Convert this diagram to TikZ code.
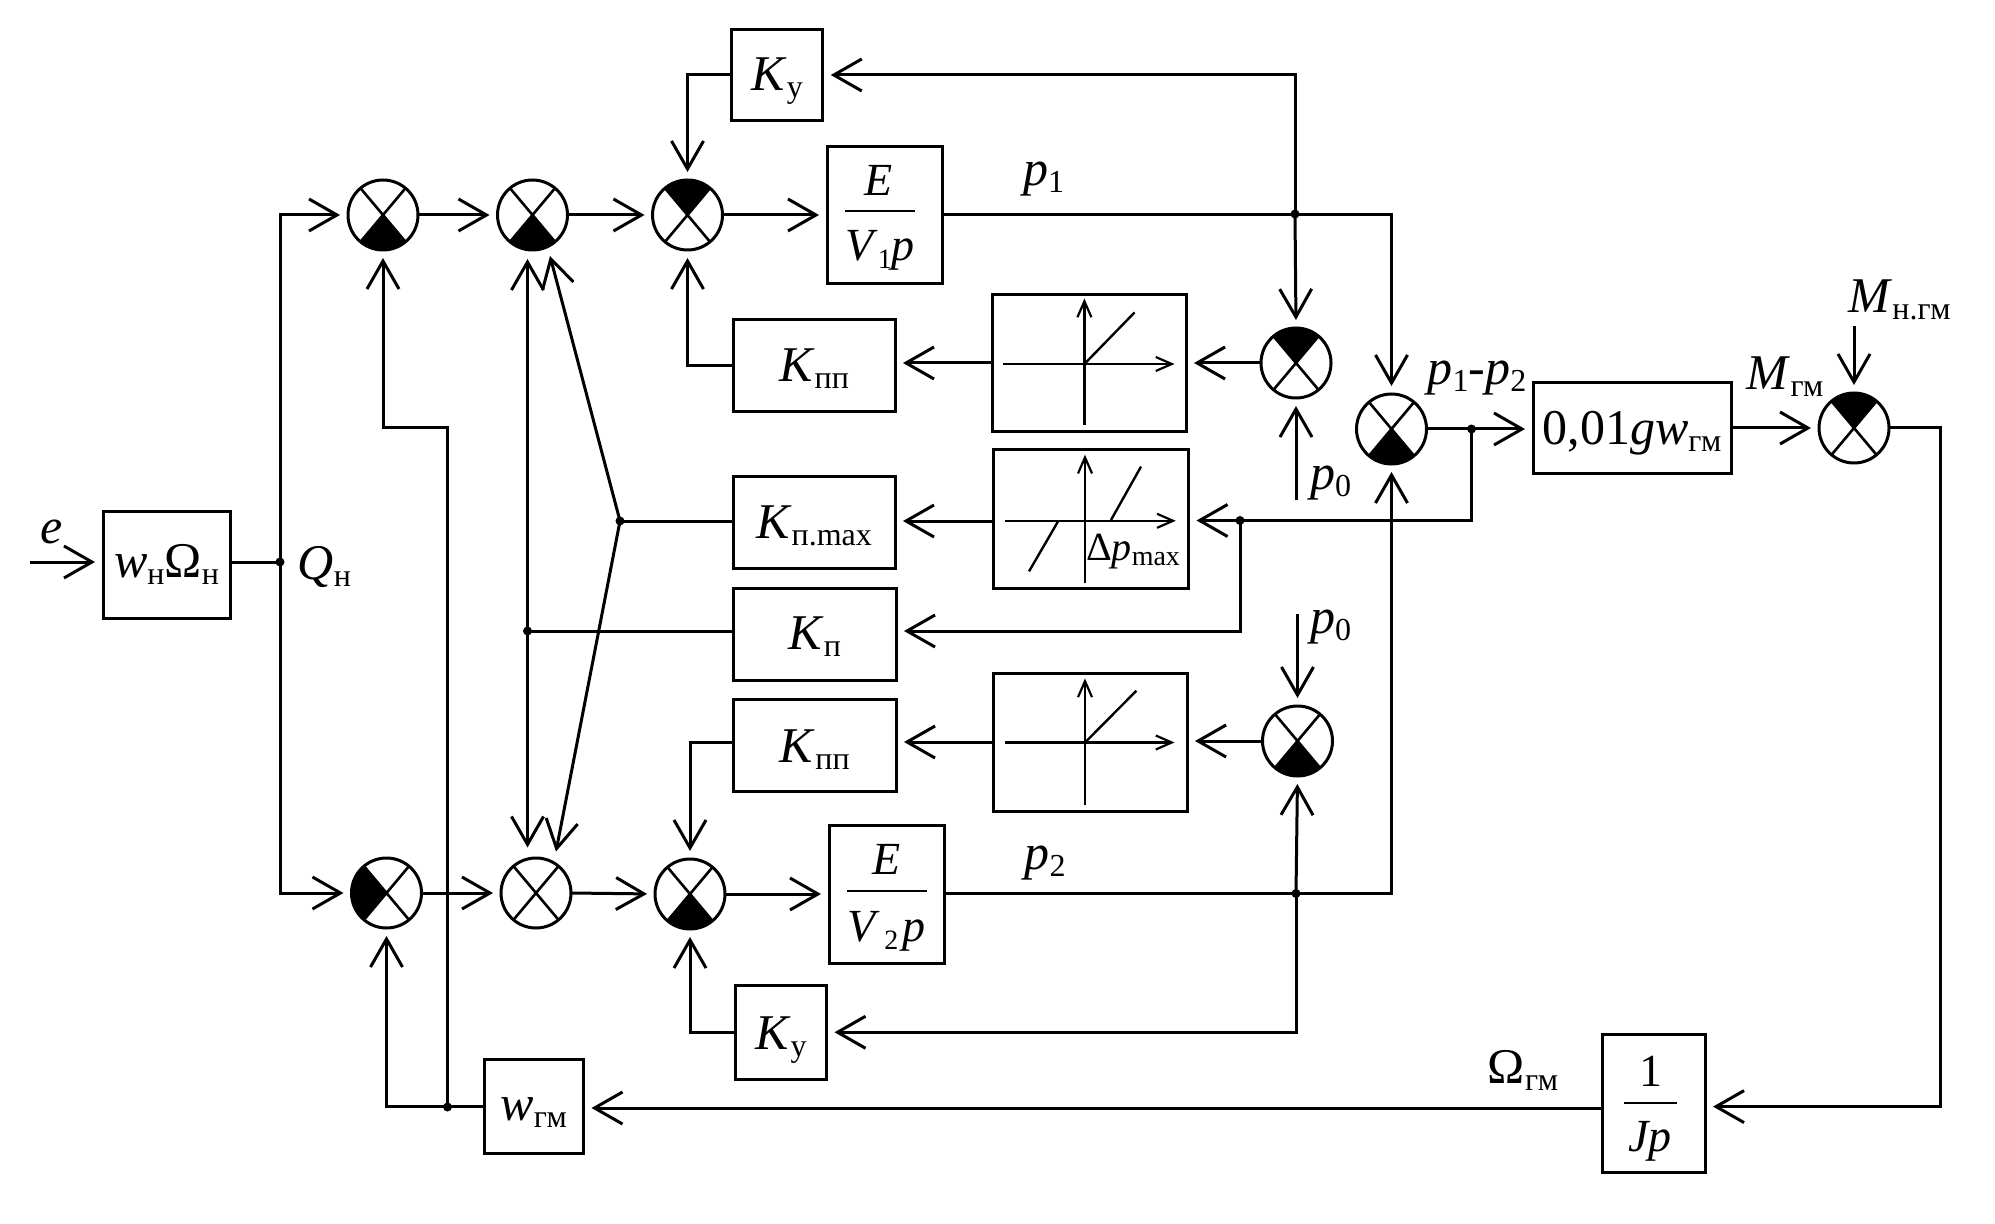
\documentclass[tikz,border=0pt]{standalone}
\usepackage{fontspec}
\setmainfont{Liberation Serif}
\usetikzlibrary{arrows.meta}
\newcommand\sbs[1]{\raisebox{-3.5pt}{\fontsize{16}{16}\selectfont #1}}
\newcommand\lbl[1]{\textit{#1}}
% summing junction: name, start and end angle of the black sector
\newcommand\sumfill[3]{%
  \fill (#1.center) -- (#1.#2)
    arc[start angle=#2,end angle=#3,radius=17.5pt] -- cycle;}
\newcommand\sumcross[1]{%
  \draw[thick cross] (#1.50) -- (#1.230) (#1.130) -- (#1.310);}
\tikzset{
  x=0.5pt,y=-0.5pt,
  wire/.style={line width=1.5pt},
  arr/.style={wire,-{Straight Barb[length=14pt,width=16pt,line width=1.5pt]},shorten >=4pt},
  arrn/.style={wire,-{Straight Barb[length=14pt,width=16pt,line width=1.5pt]}},
  axis/.style={line width=1.1pt,-{Straight Barb[length=8pt,width=7pt,line width=1.1pt]}},
  curve/.style={line width=1.2pt},
  blk/.style={draw,line width=1.5pt,inner sep=0pt,outer sep=0pt,align=center,
     font=\fontsize{25}{28}\selectfont},
  fr/.style={inner sep=0pt,font=\fontsize{23}{26}\selectfont},
  lab/.style={inner sep=0pt,font=\fontsize{25}{28}\selectfont},
  sumn/.style={circle,draw,line width=1.5pt,minimum size=35pt,inner sep=0pt,outer sep=0pt},
  dot/.style={circle,fill,inner sep=0pt,minimum size=4.5pt,outer sep=0pt},
  thick cross/.style={line width=1.3pt},
}
\begin{document}
\begin{tikzpicture}
\useasboundingbox (0,0) rectangle (1995,1224);
% summing junctions
\node[sumn] (s1) at (383,215) {};
\node[sumn] (s2) at (532.5,215) {};
\node[sumn] (s3) at (687.5,215) {};
\node[sumn] (s4) at (386.5,893) {};
\node[sumn] (s5) at (536,893) {};
\node[sumn] (s6) at (690,894) {};
\node[sumn] (s7) at (1296,363) {};
\node[sumn] (s8) at (1391.5,429) {};
\node[sumn] (s9) at (1297.5,741) {};
\node[sumn] (s10) at (1854,428) {};
\sumfill{s1}{230}{310}\sumfill{s2}{230}{310}\sumfill{s3}{50}{130}\sumfill{s4}{130}{230}
\sumfill{s6}{230}{310}\sumfill{s7}{50}{130}\sumfill{s8}{230}{310}\sumfill{s9}{230}{310}\sumfill{s10}{50}{130}
\sumcross{s1}\sumcross{s2}\sumcross{s3}\sumcross{s4}\sumcross{s5}
\sumcross{s6}\sumcross{s7}\sumcross{s8}\sumcross{s9}\sumcross{s10}
% blocks
\node[blk,minimum width=63.5pt,minimum height=53.5pt] (wo) at (166.5,564.5) {\lbl{w}\sbs{н}Ω\sbs{н}};
\node[blk,minimum width=45.75pt,minimum height=45.8pt] (ky1) at (777,75) {};
\node[lab] (ky1t) at (777,81) {\lbl{K}\sbs{у}};
\node[blk,minimum width=57.5pt,minimum height=68.5pt] (e1) at (884.5,215.5) {};
\node[blk,minimum width=81pt,minimum height=46pt] (kpp1) at (814,366) {};
\node[lab] (kpp1t) at (814,369) {\lbl{K}\sbs{пп}};
\node[blk,minimum width=97pt,minimum height=68.6pt] (nl1) at (1089,363) {};
\node[blk,minimum width=81pt,minimum height=46pt] (kmax) at (814,522.5) {};
\node[lab] (kmaxt) at (814,525.5) {\lbl{K}\sbs{п.max}};
\node[blk,minimum width=97.5pt,minimum height=69.4pt] (nl2) at (1091,519) {};
\node[blk,minimum width=81.25pt,minimum height=46pt] (kp) at (814.75,634) {};
\node[lab] (kpt) at (814.75,637) {\lbl{K}\sbs{п}};
\node[blk,minimum width=96.7pt,minimum height=69pt] (nl3) at (1090.3,742) {};
\node[blk,minimum width=81.25pt,minimum height=46pt] (kpp2) at (814.75,745.5) {};
\node[lab] (kpp2t) at (814.75,749.5) {\lbl{K}\sbs{пп}};
\node[blk,minimum width=57.75pt,minimum height=69pt] (e2) at (886.75,894) {};
\node[blk,minimum width=45.75pt,minimum height=47.25pt] (ky2) at (780.75,1032.25) {};
\node[lab] (ky2t) at (780.75,1040) {\lbl{K}\sbs{у}};
\node[blk,minimum width=49.75pt,minimum height=46.7pt] (wgm) at (533.75,1106.3) {};
\node[lab] (wgmt) at (533.75,1113) {\lbl{w}\sbs{гм}};
\node[blk,minimum width=51.5pt,minimum height=69pt] (jp) at (1653.5,1103) {};
\node[blk,minimum width=99pt,minimum height=45.7pt] (gain) at (1632,428) {};
\node[lab] (gaint) at (1632,433) {0,01\lbl{g}\lbl{w}\sbs{гм}};
% fractions
\node[fr] (e1n) at (879,180) {\lbl{E}};
\coordinate (e1a) at (845,211); \coordinate (e1b) at (915,211);
\draw[line width=1.3pt] (e1a) -- (e1b);
\node[fr] (e1d) at (880,250) {\lbl{V}\raisebox{-4pt}{\fontsize{14}{14}\selectfont 1}\lbl{p}};
\node[fr] (e2n) at (886.5,859) {\lbl{E}};
\coordinate (e2a) at (847,891); \coordinate (e2b) at (927,891);
\draw[line width=1.3pt] (e2a) -- (e2b);
\node[fr] (e2d) at (886.5,931) {\lbl{V}\raisebox{-4pt}{\fontsize{14}{14}\selectfont\,2\,}\lbl{p}};
\node[fr] (jn) at (1650.5,1071) {1};
\coordinate (ja) at (1624,1103); \coordinate (jb) at (1677,1103);
\draw[line width=1.3pt] (ja) -- (jb);
\node[fr] (jd) at (1650,1141) {\lbl{Jp}};
% characteristics
\coordinate (a1l) at (1003,364); \coordinate (a1r) at (1174.5,364);
\coordinate (a1b) at (1084.4,425); \coordinate (a1t) at (1084.4,298.5);
\coordinate (a1c) at (1084.4,364); \coordinate (a1e) at (1134.5,312.5);
\draw[axis] (a1l) -- (a1r); \draw[axis] (a1b) -- (a1t); \draw[curve] (a1c) -- (a1e);
\coordinate (a2l) at (1005,520.8); \coordinate (a2r) at (1175.8,520.8);
\coordinate (a2b) at (1085,583); \coordinate (a2t) at (1085,454.7);
\coordinate (a2c1) at (1111,520); \coordinate (a2e1) at (1141,466.6);
\coordinate (a2c2) at (1058.4,520.8); \coordinate (a2e2) at (1029,571.4);
\draw[axis] (a2l) -- (a2r); \draw[axis] (a2b) -- (a2t);
\draw[curve] (a2c1) -- (a2e1); \draw[curve] (a2c2) -- (a2e2);
\node[inner sep=0pt,font=\fontsize{20}{22}\selectfont] (dp) at (1133,551.6) {Δ\lbl{p}\raisebox{-2.5pt}{\fontsize{14}{14}\selectfont max}};
\coordinate (a3l) at (1005,742.5); \coordinate (a3r) at (1174.5,742.5);
\coordinate (a3b) at (1085,805); \coordinate (a3t) at (1085,678.4);
\coordinate (a3c) at (1085,742.5); \coordinate (a3e) at (1136.4,690.7);
\draw[axis] (a3l) -- (a3r); \draw[axis] (a3b) -- (a3t); \draw[curve] (a3c) -- (a3e);
% labels
\node[lab] (le) at (52,532) {\lbl{e}};
\node[lab] (lq) at (324.5,567) {\lbl{Q}\sbs{н}};
\node[lab] (lp1) at (1043.5,179.5) {\lbl{p}\raisebox{-3.5pt}{\fontsize{16}{16}\selectfont 1}};
\node[lab] (lp2) at (1045,863.5) {\lbl{p}\raisebox{-3.5pt}{\fontsize{16}{16}\selectfont 2}};
\node[lab] (lp0a) at (1330.5,483) {\lbl{p}\raisebox{-3.5pt}{\fontsize{16}{16}\selectfont 0}};
\node[lab] (lp0b) at (1330.5,627) {\lbl{p}\raisebox{-3.5pt}{\fontsize{16}{16}\selectfont 0}};
\node[lab] (lp12) at (1477,378) {\lbl{p}\raisebox{-3.5pt}{\fontsize{16}{16}\selectfont 1}-\lbl{p}\raisebox{-3.5pt}{\fontsize{16}{16}\selectfont 2}};
\node[lab] (lmg) at (1785,377) {\lbl{M}\sbs{гм}};
\node[lab] (lmn) at (1899.5,299.5) {\lbl{M}\sbs{н.гм}};
\node[lab] (lom) at (1523,1070) {Ω\sbs{гм}};
% junctions
\node[dot] (j0) at (280,562) {};
\node[dot] (j1) at (1295,214) {};
\node[dot] (j2) at (1240,520.5) {};
\node[dot] (j3) at (1471.5,429) {};
\node[dot] (j4) at (1296,893.5) {};
\node[dot] (jw) at (447.5,1107) {};
\node[dot] (jkp) at (527.5,631) {};
\node[dot] (jmax) at (620,521) {};
% free ends and corners
\coordinate (ein) at (30,562);
\coordinate (cfb) at (447.5,428);
\coordinate (t2a) at (527.5,259); \coordinate (t2b) at (550,256);
\coordinate (t5a) at (527.5,847.5); \coordinate (t5b) at (556,851.5);
\coordinate (p0a) at (1296,500); \coordinate (p0b) at (1297.5,614);
\coordinate (mtop) at (1854,326);
\coordinate (cr) at (1940,428);
% forward paths
\draw[arr] (ein) -- (wo.west |- ein);
\draw[wire] (wo.east |- j0) -- (j0.center);
\draw[arr] (j0.center) |- (s1.west);
\draw[arr] (j0.center) |- (s4.west);
\draw[arr] (s1.east) -- (s2.west);
\draw[arr] (s2.east) -- (s3.west);
\draw[arr] (s3.east) -- (e1.west |- s3);
\draw[arr] (s4.east) -- (s5.west);
\draw[arr] (s5.east) -- (s6.west);
\draw[arr] (s6.east) -- (e2.west |- s6);
\draw[arr] (e1.east |- s3) -| (s8.north);
\draw[arr] (e2.east |- j4) -| (s8.south);
\draw[arr] (s8.east) -- (gain.west |- s8);
\draw[arr] (gain.east) -- (s10.west);
\draw[arr] (s10.east) -- (cr) |- ([yshift=-1.8pt]jp.east);
\draw[arr] ([yshift=-2.5pt]jp.west) -- ([yshift=-2.5pt]jp.west -| wgm.east);
% upper and lower local loops
\draw[arr] (j1.center) -- (s7.north);
\draw[arr] (j1.center) |- (ky1.east);
\draw[arr] (ky1.west) -| (s3.north);
\draw[arr] (s7.west) -- (s7.west -| nl1.east);
\draw[arr] (nl1.west) -- (nl1.west -| kpp1.east);
\draw[arr] (kpp1.west) -| (s3.south);
\draw[arr] (p0a) -- (s7.south);
\draw[arr] (p0b) -- (s9.north);
\draw[arr] (s9.west) -- (s9.west -| nl3.east);
\draw[arr] (nl3.west) -- (nl3.west -| kpp2.east);
\draw[arr] (kpp2.west |- nl3) -| (s6.north);
\draw[arr] (j4.center) -- (s9.south);
\draw[arr] (j4.center) |- (ky2.east);
\draw[arr] (ky2.west) -| (s6.south);
% pressure difference feedback
\draw[arr] (j3.center) |- (nl2.east |- j2);
\draw[arr] (j2.center) |- (kp.east |- jkp);
\draw[arr] (nl2.west |- jmax) -- (kmax.east |- jmax);
\draw[wire] (kmax.west |- jmax) -- (jmax.center);
\draw[wire] (kp.west |- jkp) -- (jkp.center);
\draw[arrn] (jkp.center) -- (t2a);
\draw[arrn] (jkp.center) -- (t5a);
\draw[arrn] (jmax.center) -- (t2b);
\draw[arrn] (jmax.center) -- (t5b);
% speed feedback
\draw[arr] (mtop) -- (s10.north);
\draw[arr] (wgm.west) -| (s4.south);
\draw[arr] (jw.center) -- (cfb) -| (s1.south);
\end{tikzpicture}
\end{document}
